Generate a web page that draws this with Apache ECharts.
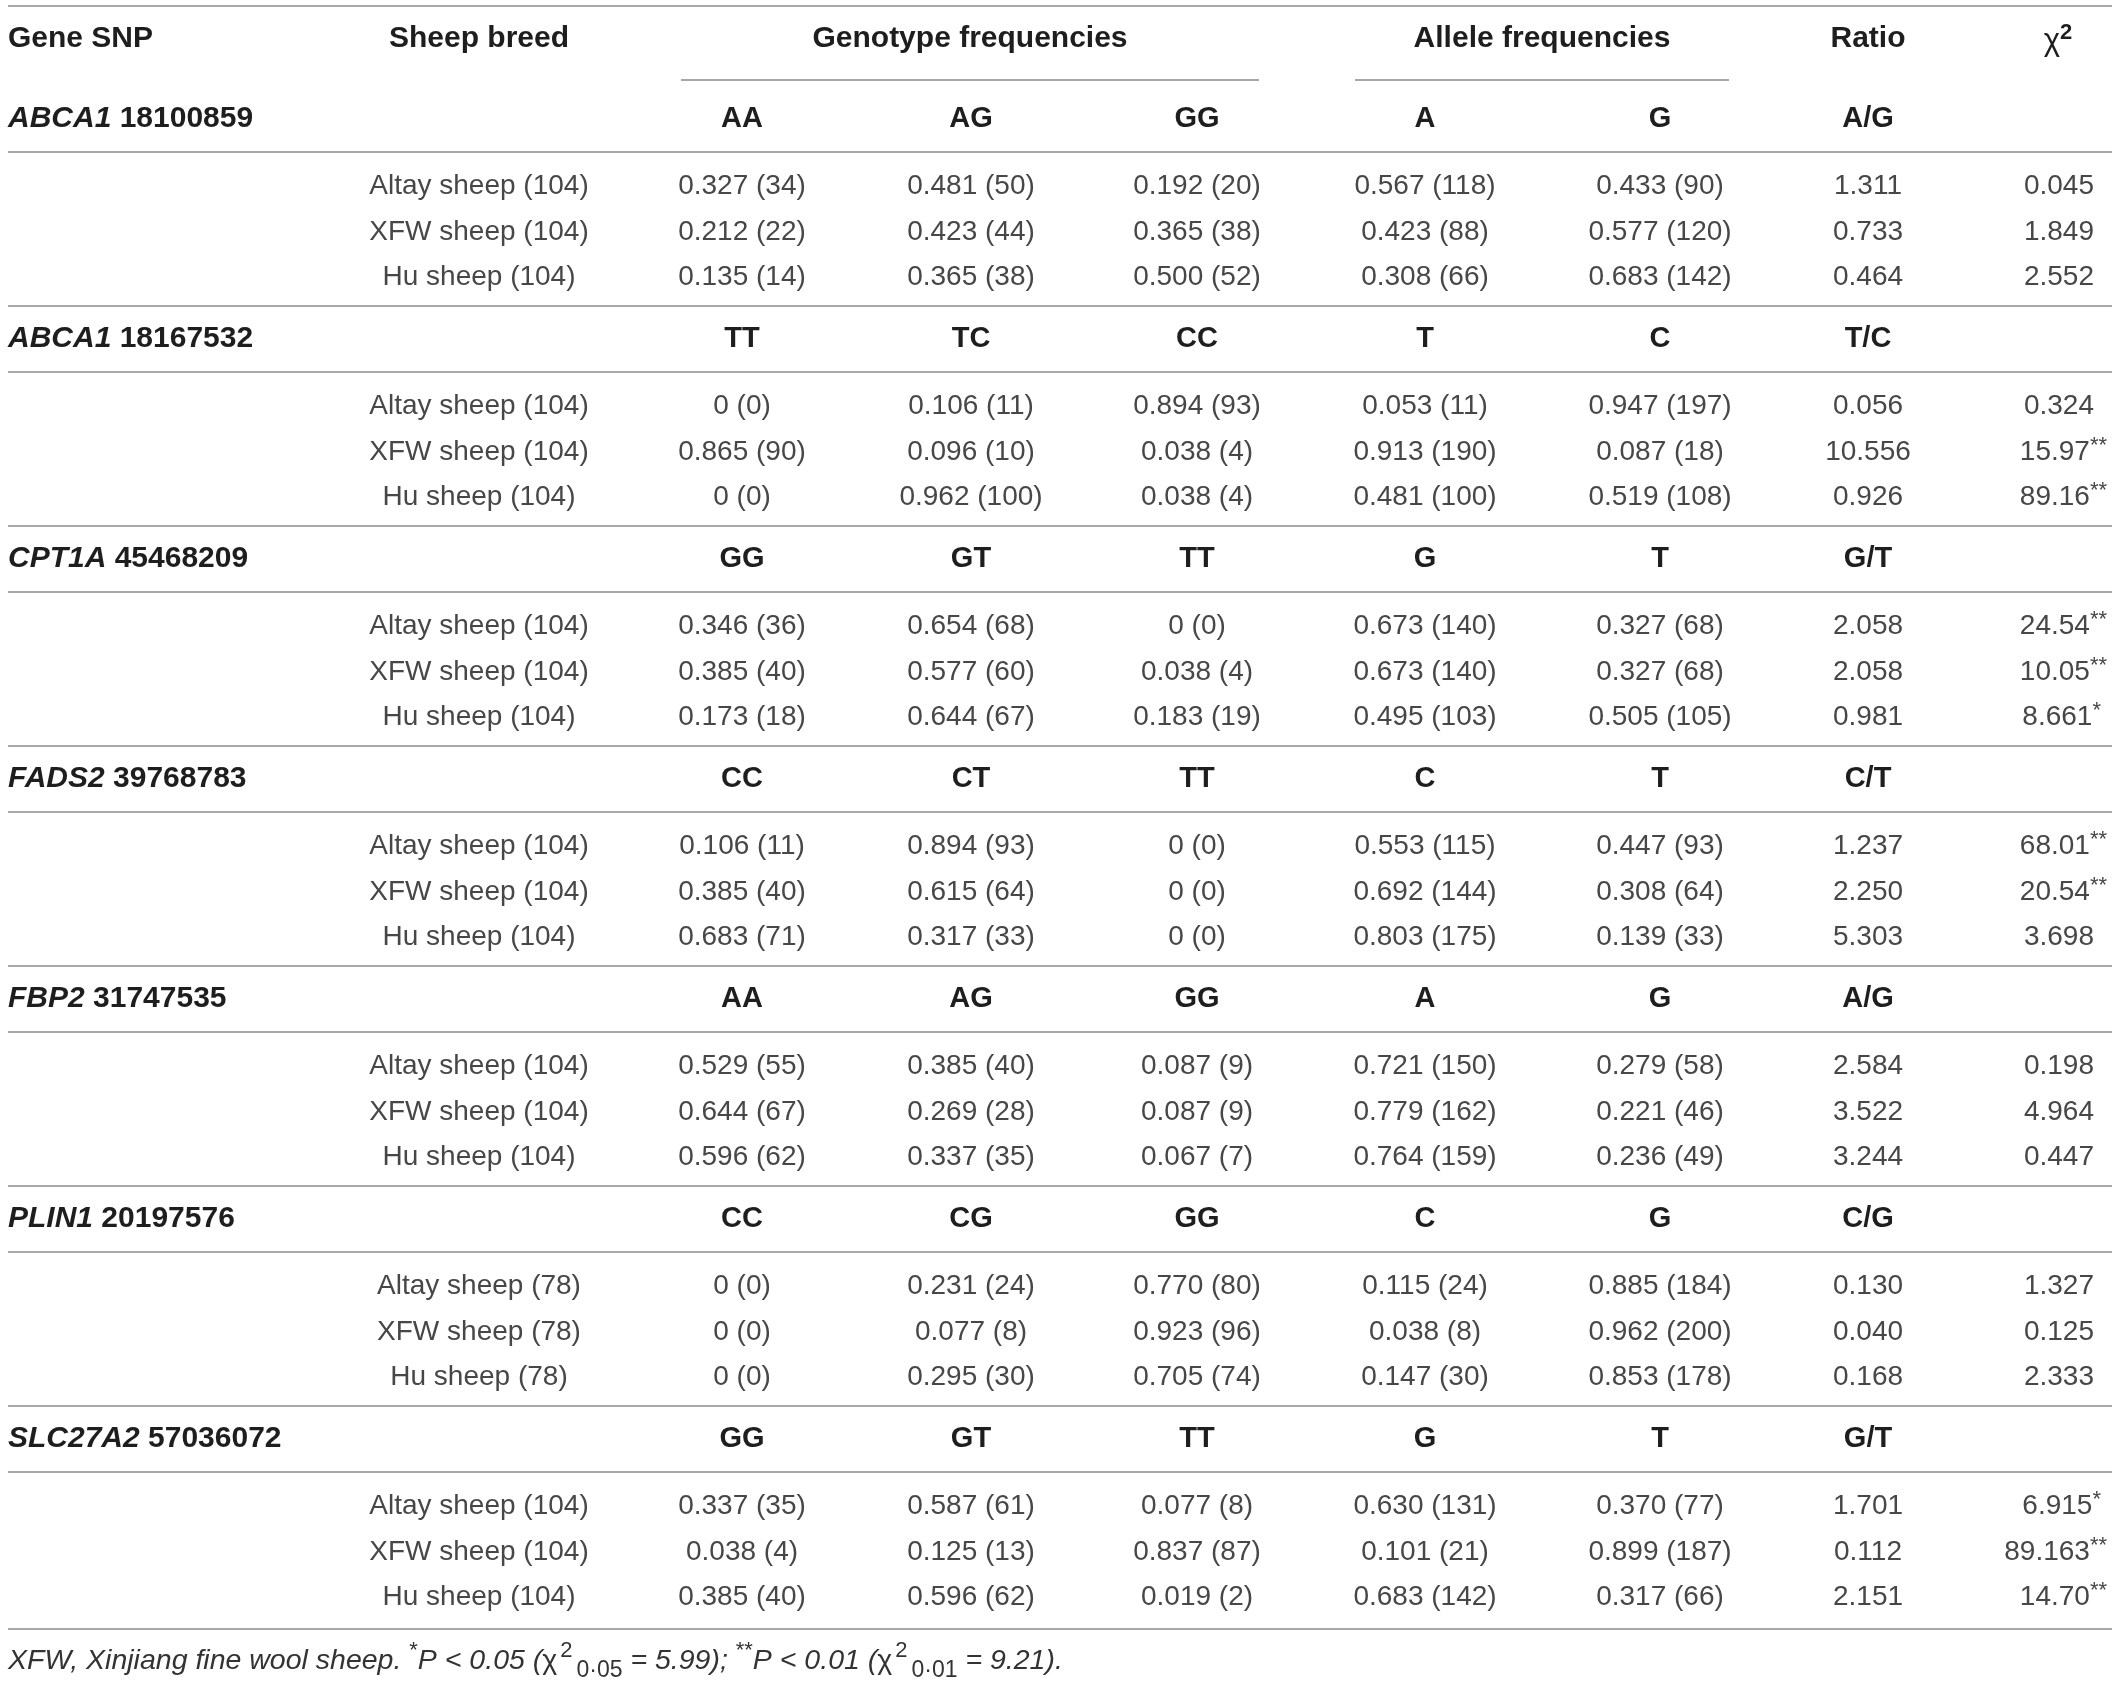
<!DOCTYPE html>
<html>
<head>
<meta charset="utf-8">
<script src="https://cdn.jsdelivr.net/npm/echarts@6/dist/echarts.min.js"></script>
<style>
html,body{margin:0;padding:0;background:#ffffff;}
#chart{width:2120px;height:1682px;}
</style>
</head>
<body>
<div id="chart"></div>
<script>
// ---------------- data ----------------
const columnHeaders = ['Gene SNP', 'Sheep breed', 'Genotype frequencies', 'Allele frequencies', 'Ratio', 'χ2'];
const genes = ['ABCA1', 'ABCA1', 'CPT1A', 'FADS2', 'FBP2', 'PLIN1', 'SLC27A2'];
const snps = ['18100859', '18167532', '45468209', '39768783', '31747535', '20197576', '57036072'];
const genotypeLabels = [
  ['AA', 'AG', 'GG'], ['TT', 'TC', 'CC'], ['GG', 'GT', 'TT'], ['CC', 'CT', 'TT'],
  ['AA', 'AG', 'GG'], ['CC', 'CG', 'GG'], ['GG', 'GT', 'TT']
];
const alleleLabels = [['A', 'G'], ['T', 'C'], ['G', 'T'], ['C', 'T'], ['A', 'G'], ['C', 'G'], ['G', 'T']];
const ratioLabels = ['A/G', 'T/C', 'G/T', 'C/T', 'A/G', 'C/G', 'G/T'];
const breeds = ['Altay sheep', 'XFW sheep', 'Hu sheep'];
const breedSizes = [104, 104, 104, 104, 104, 78, 104];

// genotype frequencies per block -> per breed -> [g1, g2, g3]
const genotypeFreq = [
  [[0.327, 0.481, 0.192], [0.212, 0.423, 0.365], [0.135, 0.365, 0.500]],
  [[0, 0.106, 0.894], [0.865, 0.096, 0.038], [0, 0.962, 0.038]],
  [[0.346, 0.654, 0], [0.385, 0.577, 0.038], [0.173, 0.644, 0.183]],
  [[0.106, 0.894, 0], [0.385, 0.615, 0], [0.683, 0.317, 0]],
  [[0.529, 0.385, 0.087], [0.644, 0.269, 0.087], [0.596, 0.337, 0.067]],
  [[0, 0.231, 0.770], [0, 0.077, 0.923], [0, 0.295, 0.705]],
  [[0.337, 0.587, 0.077], [0.038, 0.125, 0.837], [0.385, 0.596, 0.019]]
];
const genotypeCount = [
  [[34, 50, 20], [22, 44, 38], [14, 38, 52]],
  [[0, 11, 93], [90, 10, 4], [0, 100, 4]],
  [[36, 68, 0], [40, 60, 4], [18, 67, 19]],
  [[11, 93, 0], [40, 64, 0], [71, 33, 0]],
  [[55, 40, 9], [67, 28, 9], [62, 35, 7]],
  [[0, 24, 80], [0, 8, 96], [0, 30, 74]],
  [[35, 61, 8], [4, 13, 87], [40, 62, 2]]
];
const alleleFreq = [
  [[0.567, 0.433], [0.423, 0.577], [0.308, 0.683]],
  [[0.053, 0.947], [0.913, 0.087], [0.481, 0.519]],
  [[0.673, 0.327], [0.673, 0.327], [0.495, 0.505]],
  [[0.553, 0.447], [0.692, 0.308], [0.803, 0.139]],
  [[0.721, 0.279], [0.779, 0.221], [0.764, 0.236]],
  [[0.115, 0.885], [0.038, 0.962], [0.147, 0.853]],
  [[0.630, 0.370], [0.101, 0.899], [0.683, 0.317]]
];
const alleleCount = [
  [[118, 90], [88, 120], [66, 142]],
  [[11, 197], [190, 18], [100, 108]],
  [[140, 68], [140, 68], [103, 105]],
  [[115, 93], [144, 64], [175, 33]],
  [[150, 58], [162, 46], [159, 49]],
  [[24, 184], [8, 200], [30, 178]],
  [[131, 77], [21, 187], [142, 66]]
];
const ratios = [
  [1.311, 0.733, 0.464], [0.056, 10.556, 0.926], [2.058, 2.058, 0.981], [1.237, 2.250, 5.303],
  [2.584, 3.522, 3.244], [0.130, 0.040, 0.168], [1.701, 0.112, 2.151]
];
const chiSquare = [
  ['0.045', '1.849', '2.552'], ['0.324', '15.97', '89.16'], ['24.54', '10.05', '8.661'],
  ['68.01', '20.54', '3.698'], ['0.198', '4.964', '0.447'], ['1.327', '0.125', '2.333'],
  ['6.915', '89.163', '14.70']
];
const significance = [
  [0, 0, 0], [0, 2, 2], [2, 2, 1], [2, 2, 0], [0, 0, 0], [0, 0, 0], [1, 2, 2]
];
const footnote = 'XFW, Xinjiang fine wool sheep.';

// ---------------- layout ----------------
const FAM = '"Liberation Sans", Arial, Helvetica, sans-serif';
const COLX = { gene: 8, breed: 479, geno: [742, 971, 1197], allele: [1425, 1660], ratio: 1868, chi: 2094, chiHead: 2058 };
const GROUPS = { geno: [681, 1259], allele: [1355, 1729] };
const ROWY = { topRule: 6, header: 39, groupRule: 80, block0: 86, step: 220, section: 33, subRule: 66, rows: [100, 146, 191], bottomRule: 1629, note: 1661 };
const RULE_X = [8, 2112];
const INK = '#1e1e1e', TXT = '#474747', RULE = '#a8a8a8';

const fmtFreq = v => v === 0 ? '0' : v.toFixed(3);

const cells = [];
function addCell(x, y, align, style) { cells.push({ x, y, align, style }); }
const headStyle = t => ({ text: t, fontFamily: FAM, fontSize: 30, fontWeight: 'bold', fill: INK });
const labStyle = t => ({ text: t, fontFamily: FAM, fontSize: 29, fontWeight: 'bold', fill: INK });
const dataStyle = t => ({ text: t, fontFamily: FAM, fontSize: 28, fill: TXT });

// header row
addCell(COLX.gene, ROWY.header, 'left', headStyle(columnHeaders[0]));
addCell(COLX.breed, ROWY.header, 'center', headStyle(columnHeaders[1]));
addCell((GROUPS.geno[0] + GROUPS.geno[1]) / 2, ROWY.header, 'center', headStyle(columnHeaders[2]));
addCell((GROUPS.allele[0] + GROUPS.allele[1]) / 2, ROWY.header, 'center', headStyle(columnHeaders[3]));
addCell(COLX.ratio, ROWY.header, 'center', headStyle(columnHeaders[4]));
addCell(COLX.chiHead, ROWY.header + 2, 'center', {
  text: '{c|' + columnHeaders[5].charAt(0) + '}{s|' + columnHeaders[5].slice(1) + '}',
  rich: {
    c: { fontFamily: FAM, fontSize: 31, fill: INK, lineHeight: 38 },
    s: { fontFamily: FAM, fontSize: 22, fontWeight: 'bold', fill: INK, lineHeight: 22, verticalAlign: 'top' }
  }
});

const rules = [
  [RULE_X[0], RULE_X[1], ROWY.topRule],
  [GROUPS.geno[0], GROUPS.geno[1], ROWY.groupRule],
  [GROUPS.allele[0], GROUPS.allele[1], ROWY.groupRule]
];

genes.forEach((gene, b) => {
  const L = ROWY.block0 + ROWY.step * b;
  if (b > 0) rules.push([RULE_X[0], RULE_X[1], L]);
  rules.push([RULE_X[0], RULE_X[1], L + ROWY.subRule]);
  const ys = L + ROWY.section;
  addCell(COLX.gene, ys, 'left', {
    text: '{g|' + gene + '}{n| ' + snps[b] + '}',
    rich: {
      g: { fontFamily: FAM, fontSize: 30, fontWeight: 'bold', fontStyle: 'italic', fill: INK },
      n: { fontFamily: FAM, fontSize: 30, fontWeight: 'bold', fill: INK }
    }
  });
  genotypeLabels[b].forEach((g, k) => addCell(COLX.geno[k], ys, 'center', labStyle(g)));
  alleleLabels[b].forEach((a, k) => addCell(COLX.allele[k], ys, 'center', labStyle(a)));
  addCell(COLX.ratio, ys, 'center', labStyle(ratioLabels[b]));

  breeds.forEach((br, r) => {
    const y = L + ROWY.rows[r];
    addCell(COLX.breed, y, 'center', dataStyle(br + ' (' + breedSizes[b] + ')'));
    for (let k = 0; k < 3; k++) {
      addCell(COLX.geno[k], y, 'center', dataStyle(fmtFreq(genotypeFreq[b][r][k]) + ' (' + genotypeCount[b][r][k] + ')'));
    }
    for (let k = 0; k < 2; k++) {
      addCell(COLX.allele[k], y, 'center', dataStyle(fmtFreq(alleleFreq[b][r][k]) + ' (' + alleleCount[b][r][k] + ')'));
    }
    addCell(COLX.ratio, y, 'center', dataStyle(ratios[b][r].toFixed(3)));
    const sig = significance[b][r];
    if (sig === 0) {
      addCell(COLX.chi, y, 'right', dataStyle(chiSquare[b][r]));
    } else {
      addCell(COLX.chi + (sig === 2 ? 13 : 7), y, 'right', {
        text: '{v|' + chiSquare[b][r] + '}{s|' + '*'.repeat(sig) + '}',
        rich: {
          v: { fontFamily: FAM, fontSize: 28, fill: TXT, lineHeight: 34 },
          s: { fontFamily: FAM, fontSize: 22, fill: TXT, lineHeight: 22, verticalAlign: 'top' }
        }
      });
    }
  });
});
rules.push([RULE_X[0], RULE_X[1], ROWY.bottomRule]);

// footnote
addCell(COLX.gene, ROWY.note, 'left', {
  text: '{t|' + footnote + ' }{a|*}{t|P < 0.05 (}{c|χ}{u|2}{d|0·05}{t| = 5.99); }{a|**}{t|P < 0.01 (}{c|χ}{u|2}{d|0·01}{t| = 9.21).}',
  rich: {
    t: { fontFamily: FAM, fontSize: 28.5, fontStyle: 'italic', fill: '#333', lineHeight: 42 },
    c: { fontFamily: FAM, fontSize: 28.5, fill: '#333', lineHeight: 42, padding: [0, 3, 0, 0] },
    a: { fontFamily: FAM, fontSize: 22, fill: '#333', lineHeight: 22, verticalAlign: 'top' },
    u: { fontFamily: FAM, fontSize: 22, fill: '#333', lineHeight: 22, verticalAlign: 'top', padding: [0, 4, 0, 0] },
    d: { fontFamily: FAM, fontSize: 23, fill: '#333', lineHeight: 23, verticalAlign: 'bottom' }
  }
});

// ---------------- chart ----------------
const chart = echarts.init(document.getElementById('chart'), null, { renderer: 'canvas' });
chart.setOption({
  backgroundColor: '#ffffff',
  animation: false,
  grid: { left: 0, right: 0, top: 0, bottom: 0 },
  xAxis: { type: 'value', min: 0, max: 2120, show: false },
  yAxis: { type: 'value', min: 0, max: 1682, inverse: true, show: false },
  series: [
    {
      type: 'custom',
      name: 'rules',
      silent: true,
      clip: false,
      encode: { x: [0, 1], y: 2 },
      data: rules,
      renderItem: function (params, api) {
        const p1 = api.coord([api.value(0), api.value(2)]);
        const p2 = api.coord([api.value(1), api.value(2)]);
        return {
          type: 'line',
          shape: { x1: p1[0], y1: p1[1], x2: p2[0], y2: p2[1] },
          style: { stroke: RULE, lineWidth: 2 }
        };
      }
    },
    {
      type: 'custom',
      name: 'cells',
      silent: true,
      clip: false,
      encode: { x: 0, y: 1 },
      data: cells.map((c, i) => [c.x, c.y, i]),
      renderItem: function (params, api) {
        const c = cells[api.value(2)];
        const p = api.coord([api.value(0), api.value(1)]);
        return {
          type: 'text',
          x: p[0],
          y: p[1],
          style: Object.assign({ align: c.align, verticalAlign: 'middle' }, c.style)
        };
      }
    }
  ]
});
</script>
</body>
</html>
